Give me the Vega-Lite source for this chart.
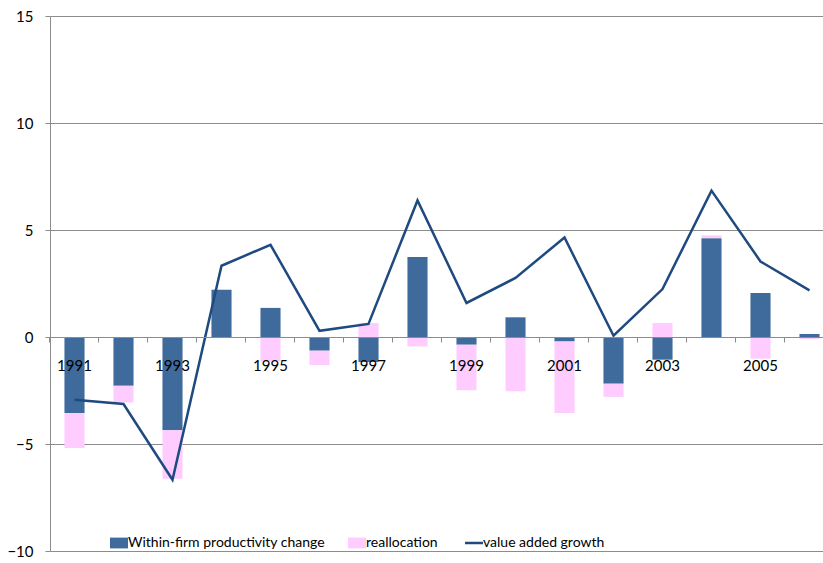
{
  "$schema": "https://vega.github.io/schema/vega-lite/v6.json",
  "width": 772,
  "height": 535,
  "autosize": "none",
  "padding": {"left": 50, "top": 16, "right": 1, "bottom": 12},
  "background": "white",
  "config": {
    "view": {"stroke": null},
    "font": "Lato",
    "axis": {"labelFont": "Lato", "labelFontSize": 15, "labelColor": "#000000", "domainColor": "#8c8c8c", "tickColor": "#8c8c8c", "gridColor": "#8c8c8c", "title": null},
    "legend": {"labelFont": "Lato", "labelFontSize": 14, "labelColor": "#000000", "labelLimit": 0}
  },
  "datasets": {
    "bars": [
      {"year": 1991, "series": "Within-firm productivity change", "value": -3.55},
      {"year": 1991, "series": "reallocation", "value": -1.64},
      {"year": 1992, "series": "Within-firm productivity change", "value": -2.28},
      {"year": 1992, "series": "reallocation", "value": -0.78},
      {"year": 1993, "series": "Within-firm productivity change", "value": -4.36},
      {"year": 1993, "series": "reallocation", "value": -2.26},
      {"year": 1994, "series": "Within-firm productivity change", "value": 2.21},
      {"year": 1994, "series": "reallocation", "value": 0.0},
      {"year": 1995, "series": "Within-firm productivity change", "value": 1.36},
      {"year": 1995, "series": "reallocation", "value": -1.15},
      {"year": 1996, "series": "Within-firm productivity change", "value": -0.64},
      {"year": 1996, "series": "reallocation", "value": -0.67},
      {"year": 1997, "series": "Within-firm productivity change", "value": -1.17},
      {"year": 1997, "series": "reallocation", "value": 0.65},
      {"year": 1998, "series": "Within-firm productivity change", "value": 3.74},
      {"year": 1998, "series": "reallocation", "value": -0.44},
      {"year": 1999, "series": "Within-firm productivity change", "value": -0.36},
      {"year": 1999, "series": "reallocation", "value": -2.13},
      {"year": 2000, "series": "Within-firm productivity change", "value": 0.92},
      {"year": 2000, "series": "reallocation", "value": -2.54},
      {"year": 2001, "series": "Within-firm productivity change", "value": -0.21},
      {"year": 2001, "series": "reallocation", "value": -3.34},
      {"year": 2002, "series": "Within-firm productivity change", "value": -2.18},
      {"year": 2002, "series": "reallocation", "value": -0.62},
      {"year": 2003, "series": "Within-firm productivity change", "value": -1.06},
      {"year": 2003, "series": "reallocation", "value": 0.65},
      {"year": 2004, "series": "Within-firm productivity change", "value": 4.62},
      {"year": 2004, "series": "reallocation", "value": 0.13},
      {"year": 2005, "series": "Within-firm productivity change", "value": 2.06},
      {"year": 2005, "series": "reallocation", "value": -1.01},
      {"year": 2006, "series": "Within-firm productivity change", "value": 0.14},
      {"year": 2006, "series": "reallocation", "value": -0.09}
    ],
    "growth": [
      {"year": 1991, "value": -2.93},
      {"year": 1992, "value": -3.13},
      {"year": 1993, "value": -6.67},
      {"year": 1994, "value": 3.33},
      {"year": 1995, "value": 4.31},
      {"year": 1996, "value": 0.29},
      {"year": 1997, "value": 0.61},
      {"year": 1998, "value": 6.38},
      {"year": 1999, "value": 1.59},
      {"year": 2000, "value": 2.76},
      {"year": 2001, "value": 4.65},
      {"year": 2002, "value": 0.06},
      {"year": 2003, "value": 2.24},
      {"year": 2004, "value": 6.84},
      {"year": 2005, "value": 3.53},
      {"year": 2006, "value": 2.18}
    ]
  },
  "encoding": {
    "x": {
      "field": "year",
      "type": "ordinal",
      "scale": {"range": [0, 784], "paddingInner": 0.59, "paddingOuter": 0.295},
      "axis": {
        "orient": "bottom",
        "offset": -214,
        "zindex": 2,
        "grid": false,
        "labelAngle": 0,
        "tickSize": 5,
        "bandPosition": -0.72,
        "labelDx": 24.5,
        "labelPadding": 16,
        "labelExpr": "datum.value % 2 == 1 ? datum.label : ''"
      }
    },
    "y": {
      "type": "quantitative",
      "scale": {"domain": [-10, 15], "nice": false},
      "axis": {"values": [-10, -5, 0, 5, 10, 15], "tickSize": 5, "labelPadding": 12, "grid": true}
    }
  },
  "layer": [
    {
      "data": {"name": "bars"},
      "mark": {"type": "bar"},
      "encoding": {
        "y": {"field": "value", "type": "quantitative", "stack": "zero"},
        "order": {"field": "series", "sort": "ascending"},
        "color": {
          "field": "series",
          "type": "nominal",
          "scale": {
            "domain": ["Within-firm productivity change", "reallocation", "value added growth"],
            "range": ["#3f6a9c", "#ffccff", "#1f4a7f"]
          },
          "legend": {
            "title": null,
            "orient": "none",
            "direction": "horizontal",
            "legendX": 62,
            "legendY": 520,
            "symbolSize": 324,
            "labelOffset": 2,
            "columnPadding": 22,
            "zindex": 3,
            "encode": {
              "symbols": {
                "update": {
                  "shape": {"signal": "datum.value === 'value added growth' ? 'M-1,0H1' : 'M-1,-0.6H1V0.6H-1Z'"},
                  "fill": {"signal": "datum.value === 'value added growth' ? 'transparent' : scale('color', datum.value)"},
                  "stroke": {"signal": "scale('color', datum.value)"},
                  "strokeWidth": {"signal": "datum.value === 'value added growth' ? 2.5 : 0"},
                  "opacity": {"value": 1}
                }
              }
            }
          }
        }
      }
    },
    {
      "data": {"name": "growth"},
      "mark": {"type": "line", "strokeWidth": 2.5},
      "encoding": {
        "y": {"field": "value", "type": "quantitative"},
        "color": {"datum": "value added growth"}
      }
    }
  ]
}
